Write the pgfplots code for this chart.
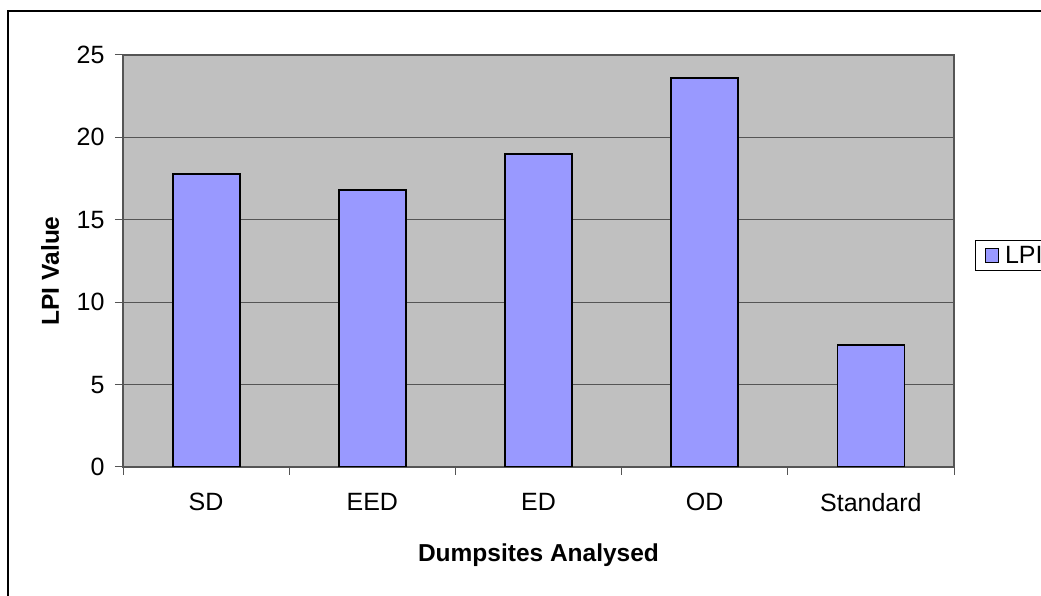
\documentclass[border=0pt]{standalone}
\usepackage{pgfplots}
\pgfplotsset{compat=1.18}
\usepackage{fontspec}
\setmainfont{Liberation Sans}
\definecolor{plotgray}{HTML}{C0C0C0}
\definecolor{barblue}{HTML}{9999FF}
\definecolor{gridgray}{HTML}{555555}
\begin{document}
\begin{tikzpicture}[x=1pt,y=1pt]
\useasboundingbox (0,0) rectangle (1041,596);
\clip (0,0) rectangle (1041,596);
\fill[white] (0,0) rectangle (1041,596);
\draw[line width=2pt] (8,585) rectangle (1100,-50);
\begin{axis}[
  at={(123pt,129pt)}, anchor=south west,
  scale only axis, width=831pt, height=412pt,
  xmin=-0.5, xmax=4.5, ymin=0, ymax=25,
  ybar, bar width=67pt, bar shift=0pt,
  axis background/.style={fill=plotgray},
  axis line style={draw=gridgray, line width=1.2pt},
  tick align=outside, tick pos=left,
  major tick length=8pt,
  xtick={0,...,4}, xticklabels={SD,EED,ED,OD,Standard},
  xtick style={draw=none},
  extra x ticks={-0.5,0.5,1.5,2.5,3.5,4.5},
  extra x tick labels={},
  extra x tick style={xtick style={draw=gridgray, line width=1pt}},
  ytick={0,5,...,25},
  ytick style={draw=gridgray, line width=1pt},
  ymajorgrids, grid style={draw=gridgray, line width=1pt},
  /pgf/number format/assume math mode=true,
  ticklabel style={font=\fontsize{25}{29}\selectfont},
  xticklabel style={yshift=-15pt},
  yticklabel style={xshift=-7pt},
  xlabel={Dumpsites Analysed},
  ylabel={LPI Value},
  label style={font=\fontsize{24.5}{28}\selectfont\bfseries},
  xlabel style={at={(axis description cs:0.5,-0.2136)}, anchor=center},
  ylabel style={at={(axis description cs:-0.0878,0.476)}, anchor=center},
  legend style={at={(axis description cs:1.0253,0.513)}, anchor=west,
    draw=black, line width=1pt, fill=white,
    font=\fontsize{25}{29}\selectfont, inner xsep=4pt, inner ysep=3.5pt},
  legend image code/.code={\path (0pt,0pt); \draw[fill=barblue, draw=black, line width=1.2pt] (5pt,-7pt) rectangle (18pt,7pt);},
]
\addplot[fill=barblue, draw=black, line width=1.8pt] coordinates {(0,17.8) (1,16.8) (2,19.0) (3,23.6) (4,7.4)};
\addlegendentry{\hspace{4pt}LPI\hspace{30pt}}
\end{axis}
\end{tikzpicture}
\end{document}
